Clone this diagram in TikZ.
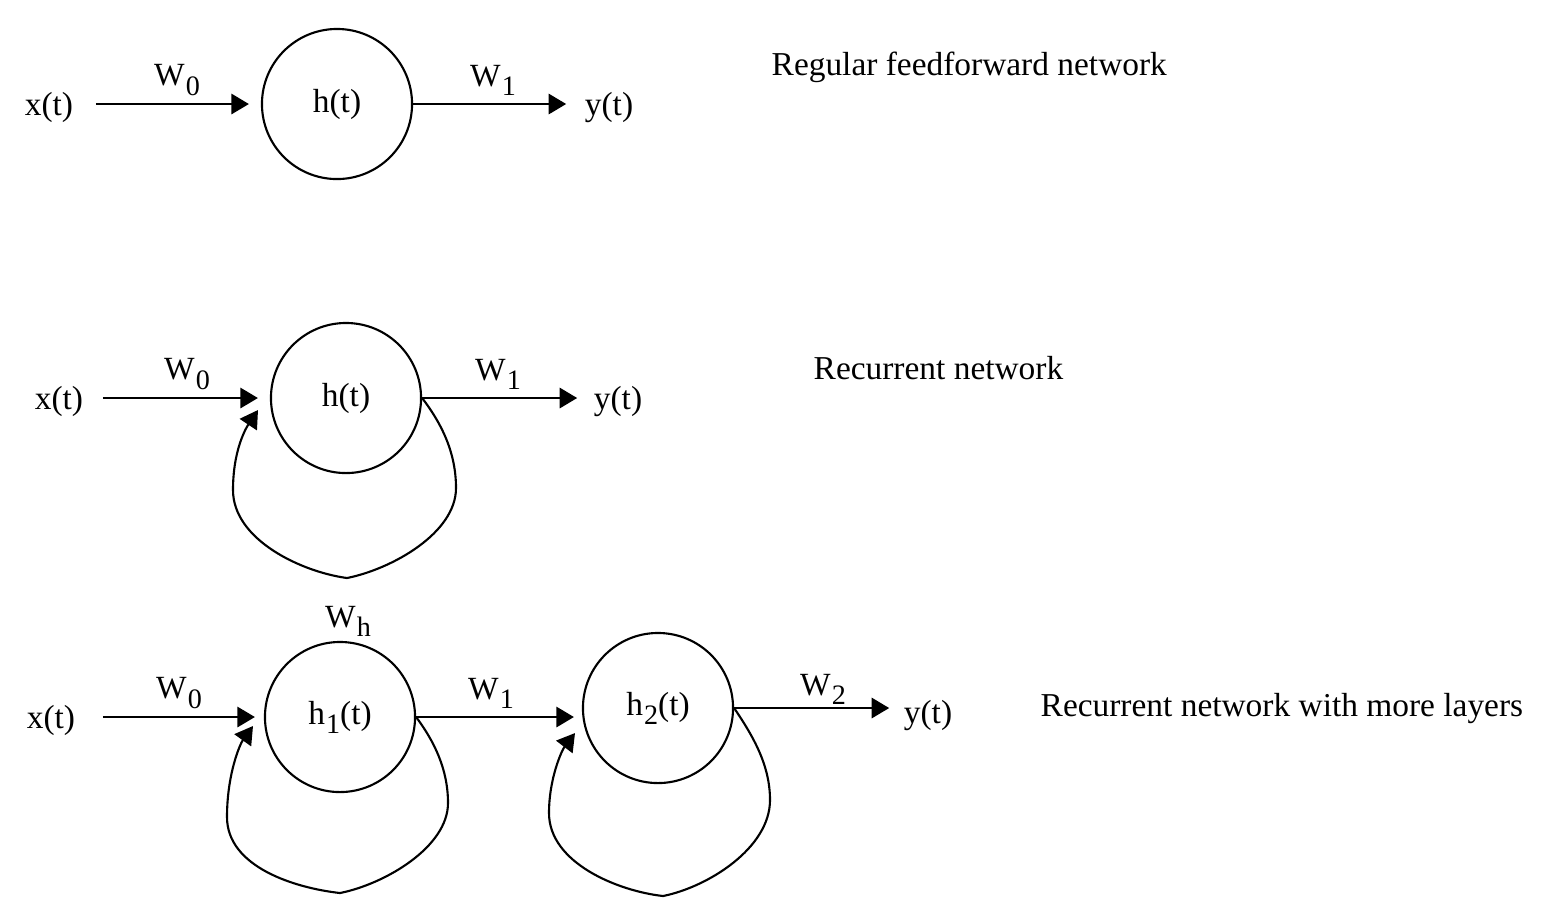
\documentclass[tikz,border=0pt]{standalone}
\usepackage{fontspec}
\setmainfont{Liberation Serif}
\usetikzlibrary{arrows.meta,calc}
\newcommand\lowsub[1]{\kern0.3pt\raisebox{-2.6pt}{\fontsize{8pt}{9pt}\selectfont #1}}
\tikzset{
  txt/.style={inner sep=0pt, font=\fontsize{9.5pt}{11pt}\selectfont},
  wlabel/.style={inner sep=0pt, font=\fontsize{9.2pt}{11pt}\selectfont},
  neuron/.style={circle, draw, line width=0.6pt, minimum size=1.5cm, inner sep=0pt, font=\fontsize{9.5pt}{11pt}\selectfont},
  arr/.style={line width=0.6pt, -{Triangle[length=5pt,width=5.8pt]}},
  loopline/.style={line width=0.6pt, -{Triangle[length=5pt,width=5.8pt]}}
}
\begin{document}
\begin{tikzpicture}[x=0.01cm,y=-0.01cm]
\useasboundingbox (0,0) rectangle (1543,920);
% ---------- Row 1: regular feedforward ----------
\node[txt] (x1) at (49,107) {x(t)};
\node[neuron] (h1) at (337,104) {h(t)};
\node[txt] (y1) at (609,107) {y(t)};
\node[wlabel] (w01) at (177,80) {W\lowsub{0}};
\node[wlabel] (w11) at (493,80) {W\lowsub{1}};
\node[txt, anchor=base west] (t1) at (771,75) {Regular feedforward network};
\draw[arr, shorten <=0.22cm, shorten >=0.12cm] (h1.west -| x1.east) -- (h1.west);
\draw[arr, shorten >=0.18cm] (h1.east) -- (h1.east -| y1.west);
% ---------- Row 2: recurrent ----------
\node[txt] (x2) at (59,401) {x(t)};
\node[neuron] (h2) at (346,398) {h(t)};
\node[txt] (y2) at (618,401) {y(t)};
\node[wlabel] (w02) at (187,374) {W\lowsub{0}};
\node[wlabel] (w12) at (498,374) {W\lowsub{1}};
\node[txt, anchor=base west] (t2) at (813,379) {Recurrent network};
\draw[arr, shorten <=0.19cm, shorten >=0.12cm] (h2.west -| x2.east) -- (h2.west);
\draw[arr, shorten >=0.16cm] (h2.east) -- (h2.east -| y2.west);
\coordinate (tip2) at (258,410);
\draw[loopline] (h2.east)
  .. controls (442,424) and (456,453) .. (456,488)
  .. controls (456,533) and (392,569) .. (347,578)
  .. controls (302,572) and (233,540) .. (233,490)
  .. controls (233,450) and (246,428) .. (tip2);
% ---------- Row 3: recurrent with more layers ----------
\node[txt] (x3) at (51,720) {x(t)};
\node[neuron] (h31) at (340,717) {h\lowsub{1}(t)};
\node[neuron] (h32) at (658,708) {h\lowsub{2}(t)};
\node[txt] (y3) at (928,715) {y(t)};
\node[wlabel] (w03) at (179,693) {W\lowsub{0}};
\node[wlabel] (wh3) at (348,621) {W\lowsub{h}};
\node[wlabel] (w13) at (491,693) {W\lowsub{1}};
\node[wlabel] (w23) at (823,689) {W\lowsub{2}};
\node[txt, anchor=base west] (t3) at (1040,716) {Recurrent network with more layers};
\draw[arr, shorten <=0.27cm, shorten >=0.09cm] (h31.west -| x3.east) -- (h31.west);
\draw[arr, shorten >=0.09cm] (h31.east) -- ($(h31.east -| h32.west)+(1,0)$);
\draw[arr, shorten >=0.14cm] (h32.east) -- (h32.east -| y3.west);
\coordinate (tip31) at (253,726);
\draw[loopline] (h31.east)
  .. controls (434,741) and (448,769) .. (448,803)
  .. controls (448,847) and (385,884) .. (340,893)
  .. controls (295,888) and (227,867) .. (227,817)
  .. controls (227,774) and (240,744) .. (tip31);
\coordinate (tip32) at (575,733);
\draw[loopline] (h32.east)
  .. controls (753,736) and (770,765) .. (770,800)
  .. controls (770,848) and (708,887) .. (663,896)
  .. controls (618,891) and (549,863) .. (549,813)
  .. controls (549,778) and (562,750) .. (tip32);
\end{tikzpicture}
\end{document}
